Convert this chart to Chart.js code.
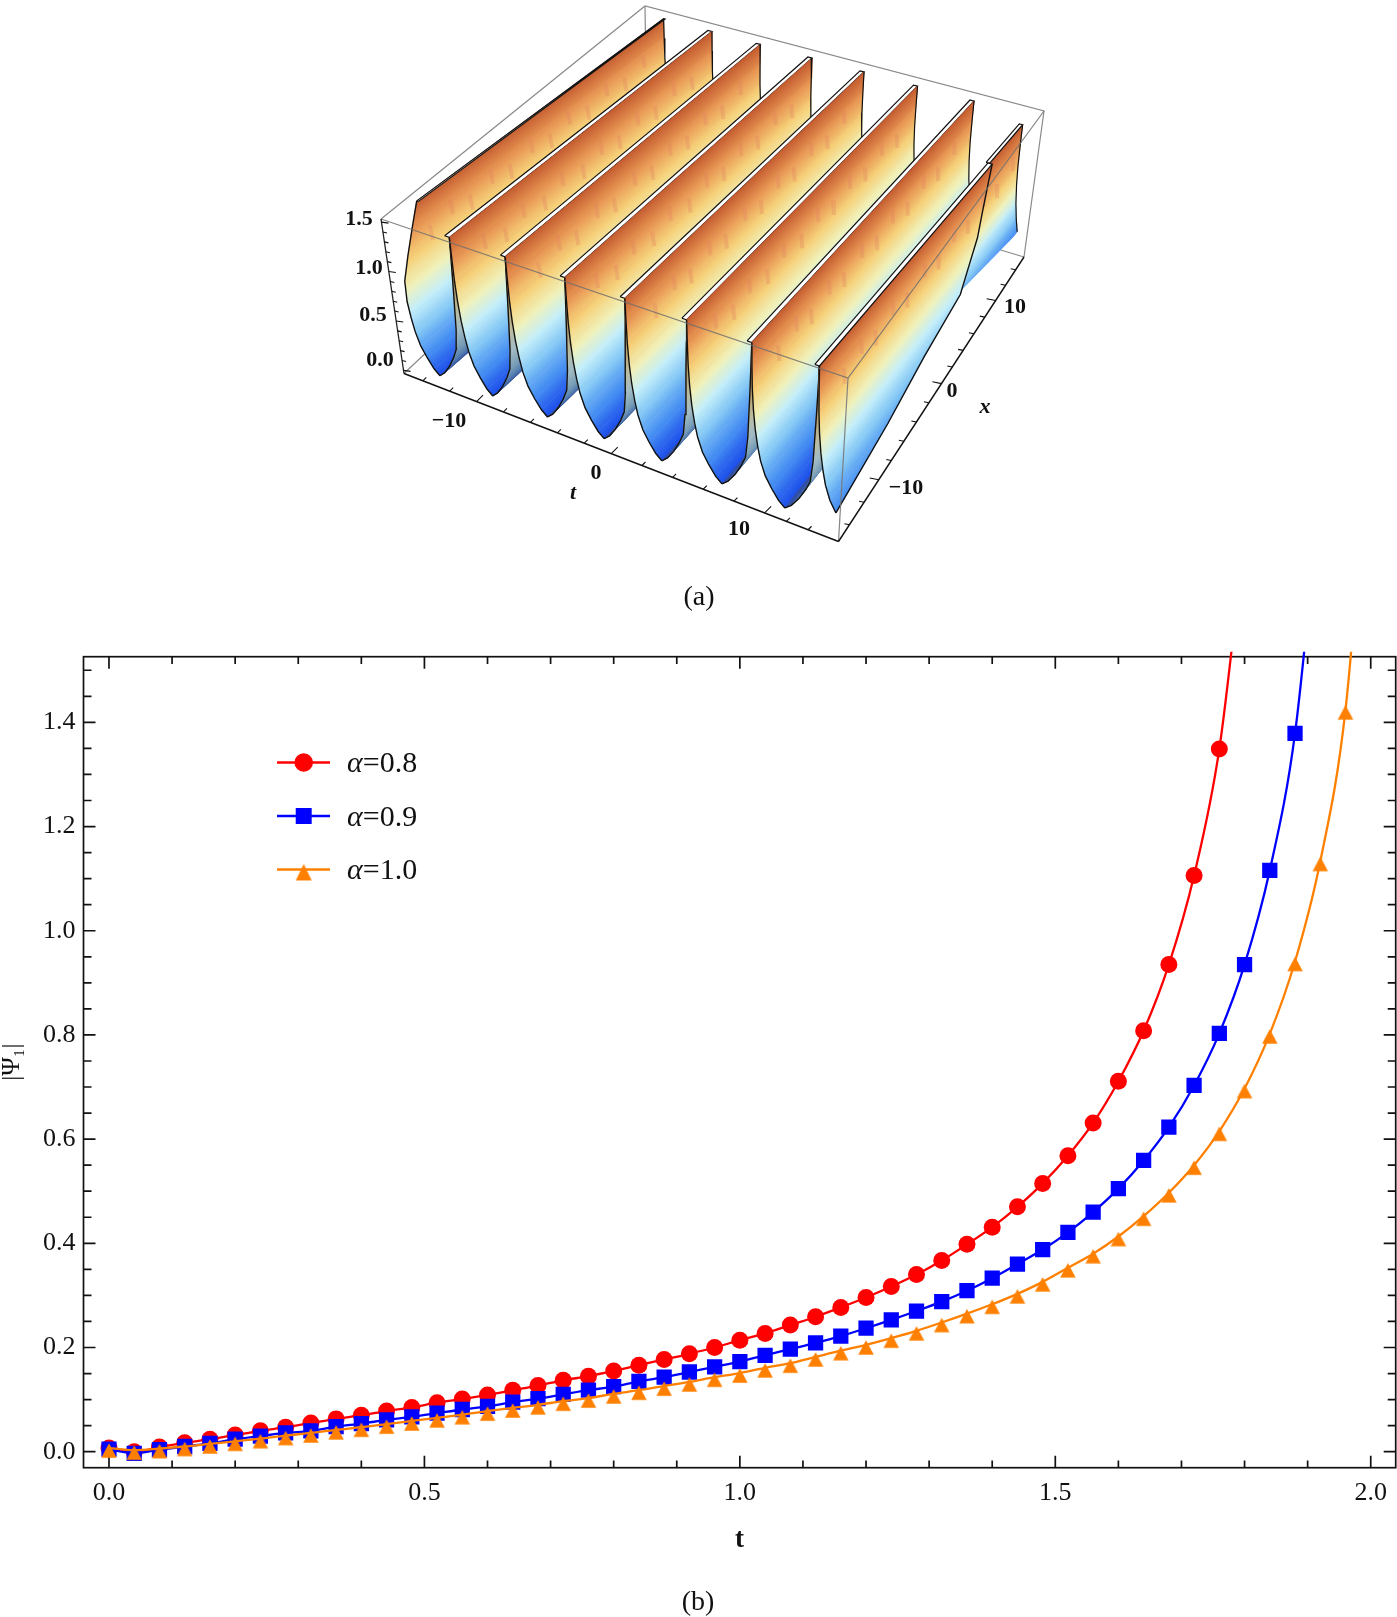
<!DOCTYPE html>
<html>
<head>
<meta charset="utf-8">
<title>Fig</title>
<script src="https://cdn.jsdelivr.net/npm/chart.js@4/dist/chart.umd.js"></script>
<style>
  html, body { margin: 0; padding: 0; background: #fff; }
  #page { position: relative; width: 1397px; height: 1617px; overflow: hidden; }
  canvas { position: absolute; left: 0; }
  #surface { top: 0; }
  #curves { top: 610px; }
  .cap { position: absolute; width: 100px; text-align: center; font: 28px "Liberation Serif", serif; color: #111; }
</style>
</head>
<body>
<div id="page">
  <canvas id="surface" width="1397" height="610"></canvas>
  <canvas id="curves" width="1397" height="1007"></canvas>
  <div class="cap" style="left:649px;top:580px">(a)</div>
  <div class="cap" style="left:648px;top:1585px">(b)</div>
</div>
<script>
const tValues = [0, 0.04, 0.08, 0.12, 0.16, 0.2, 0.24, 0.28, 0.32, 0.36, 0.4, 0.44, 0.48, 0.52, 0.56, 0.6, 0.64, 0.68, 0.72, 0.76, 0.8, 0.84, 0.88, 0.92, 0.96, 1, 1.04, 1.08, 1.12, 1.16, 1.2, 1.24, 1.28, 1.32, 1.36, 1.4, 1.44, 1.48, 1.52, 1.56, 1.6, 1.64, 1.68, 1.72, 1.76, 1.8, 1.84, 1.88, 1.92, 1.96, 2];
const alpha08 = [0.007, 0, 0.009, 0.017, 0.024, 0.032, 0.04, 0.047, 0.055, 0.063, 0.07, 0.078, 0.085, 0.094, 0.101, 0.109, 0.118, 0.127, 0.137, 0.145, 0.155, 0.166, 0.177, 0.188, 0.2, 0.214, 0.227, 0.243, 0.259, 0.277, 0.296, 0.317, 0.34, 0.367, 0.398, 0.431, 0.47, 0.515, 0.568, 0.631, 0.711, 0.808, 0.935, 1.106, 1.349, 1.76];
const alpha09 = [0.005, -0.003, 0.004, 0.01, 0.016, 0.024, 0.03, 0.036, 0.04, 0.048, 0.054, 0.061, 0.067, 0.074, 0.081, 0.087, 0.095, 0.102, 0.11, 0.118, 0.125, 0.135, 0.143, 0.153, 0.163, 0.173, 0.185, 0.197, 0.209, 0.222, 0.237, 0.253, 0.27, 0.288, 0.309, 0.333, 0.36, 0.388, 0.421, 0.46, 0.505, 0.559, 0.623, 0.703, 0.803, 0.935, 1.116, 1.379, 1.85];
const alpha10 = [0.007, 0.003, 0.006, 0.01, 0.015, 0.02, 0.025, 0.031, 0.036, 0.042, 0.047, 0.053, 0.059, 0.065, 0.071, 0.078, 0.084, 0.09, 0.097, 0.103, 0.111, 0.118, 0.126, 0.134, 0.143, 0.151, 0.161, 0.17, 0.182, 0.194, 0.205, 0.218, 0.232, 0.248, 0.265, 0.283, 0.303, 0.326, 0.353, 0.38, 0.413, 0.452, 0.497, 0.55, 0.615, 0.697, 0.802, 0.941, 1.133, 1.424, 2];
const seriesLabels = ["0.8", "0.9", "1.0"];
const xTickValues = [0, 0.5, 1, 1.5, 2];
const yTickValues = [0, 0.2, 0.4, 0.6, 0.8, 1, 1.2, 1.4];

// surface (a): wall positions across t, one valley profile
const wallT = [0, 0.131, 0.262, 0.402, 0.543, 0.688, 0.841, 1];
const profileU = [0, 0.004, 0.012, 0.03, 0.06, 0.1, 0.145, 0.22, 0.32, 0.43, 0.53, 0.63, 0.74, 0.84, 0.91, 0.945, 0.975, 0.99, 1];
const profileZ = [1.5, 1.28, 1.05, 0.85, 0.66, 0.5, 0.37, 0.24, 0.14, 0.05, 0, 0.05, 0.14, 0.25, 0.35, 0.55, 1, 1.28, 1.5];
const colorZ = [0, 0.15, 0.35, 0.55, 0.75, 1, 1.25, 1.5];
const colorRGB = [[30, 80, 235], [70, 142, 242], [133, 200, 245], [196, 238, 250], [240, 242, 188], [246, 208, 120], [232, 150, 84], [196, 92, 48]];
const nearCutZ = [0.14, 0.25, 0.5, 0.8, 1.1, 1.5];
const nearCutX = [0, 0.32, 0.677, 0.76, 0.785, 0.81];
const backCutZ = [0.35, 0.43, 0.5, 0.8, 1.1, 1.5];
const backCutX = [0.96, 0.9, 0.677, 0.76, 0.785, 0.81];
const streakX = [0.12, 0.2, 0.27, 0.35, 0.42, 0.5, 0.57, 0.64, 0.71, 0.78, 0.85, 0.92];
const tAxisValues = [-14, -12, -10, -8, -6, -4, -2, 0, 2, 4, 6, 8, 10, 12, 14];
const xAxisValues = [-14, -12, -10, -8, -6, -4, -2, 0, 2, 4, 6, 8, 10, 12, 14];
const zAxisValues = [0, 0.1, 0.2, 0.3, 0.4, 0.5, 0.6, 0.7, 0.8, 0.9, 1, 1.1, 1.2, 1.3, 1.4, 1.5];

const pageFont = '"Liberation Serif", serif';
Chart.defaults.font.family = pageFont;
Chart.defaults.color = "#111";

function lookup(xs, ys, v) {
  if (v <= xs[0]) return ys[0];
  for (let i = 1; i < xs.length; i++) {
    if (v <= xs[i]) return ys[i - 1] + (ys[i] - ys[i - 1]) * (v - xs[i - 1]) / (xs[i] - xs[i - 1]);
  }
  return ys[ys.length - 1];
}

// corners of the data block on the page
const topPlane = { fl: [393.5, 218], fr: [819.5, 366], bl: [663.6, 18.7], br: [1032.7, 116.7] };
const lowPlane = { fl: [412, 365], fr: [815, 519.5], bl: [666, 151], br: [1014, 255] };
const box = { blt: [645, 6], brt: [1044, 111], flt: [381, 219], frt: [848, 378], flb: [404, 373.5], frb: [838.5, 541.5], brb: [1024, 257], blb: [647, 144] };

function onPlane(p, t, x, i) {
  const f = p.fl[i] + (p.fr[i] - p.fl[i]) * t;
  const b = p.bl[i] + (p.br[i] - p.bl[i]) * t;
  return f + (b - f) * x;
}

function proj(t, x, z) {
  const w = z / 1.5;
  return {
    x: onPlane(lowPlane, t, x, 0) + (onPlane(topPlane, t, x, 0) - onPlane(lowPlane, t, x, 0)) * w,
    y: onPlane(lowPlane, t, x, 1) + (onPlane(topPlane, t, x, 1) - onPlane(lowPlane, t, x, 1)) * w,
  };
}

function zColor(z, dark) {
  const c = [0, 1, 2].map((i) => lookup(colorZ, colorRGB.map((r) => r[i]), z));
  if (!dark) return `rgb(${c.map(Math.round).join(",")})`;
  const g = (c[0] + c[1] + c[2]) / 3;
  return `rgb(${c.map((v) => Math.round((v * 0.7 + g * 0.3) * 0.8)).join(",")})`;
}

const surfaceCtx = document.getElementById("surface").getContext("2d");
const surfaceSets = [];

function addLine(points, color, width) {
  surfaceSets.push({ data: points, showLine: true, pointRadius: 0, borderColor: color, borderWidth: width, fill: false, clip: false, tension: 0 });
}

// one strip of the surface between two profile samples, shaded by height
function addQuad(a, b, dark) {
  const p1 = proj(a.t, 0.5, a.z);
  const p2 = proj(b.t, 0.5, b.z);
  const s0 = proj(a.t, 0, a.z);
  const s1 = proj(a.t, 1, a.z);
  const len = Math.hypot(s1.x - s0.x, s1.y - s0.y);
  const nx = -(s1.y - s0.y) / len;
  const ny = (s1.x - s0.x) / len;
  const d = (p2.x - p1.x) * nx + (p2.y - p1.y) * ny;
  const grad = surfaceCtx.createLinearGradient(p1.x, p1.y, p1.x + nx * d + 0.01, p1.y + ny * d + 0.01);
  const ca = a.shade === undefined ? a.z : a.shade;
  const cb = b.shade === undefined ? b.z : b.shade;
  for (let i = 0; i <= 6; i++) grad.addColorStop(i / 6, zColor(ca + (cb - ca) * i / 6, dark));
  surfaceSets.push({
    data: [proj(a.t, a.from, a.z), proj(b.t, b.from, b.z), proj(b.t, b.to, b.z), proj(a.t, a.to, a.z), proj(a.t, a.from, a.z)],
    showLine: true, pointRadius: 0, borderColor: grad, borderWidth: 0.8, backgroundColor: grad, fill: "shape", clip: false, tension: 0,
  });
}

function addEdge(samples, useTo, color, width) {
  addLine(samples.map((s) => proj(s.t, useTo ? s.to : s.from, s.z)), color, width);
}

function addWallTop(t, from, to, w) {
  surfaceSets.push({
    data: [proj(t - w, from, 1.5), proj(t, from, 1.5), proj(t, to, 1.5), proj(t - w, to, 1.5), proj(t - w, from, 1.5)],
    showLine: true, pointRadius: 0, borderColor: "#111", borderWidth: 1.2, backgroundColor: "#fff", fill: "shape", clip: false, tension: 0,
  });
}

// soft pink streaks the reference shows down the upper part of each wall
function addStreaks(start, gap, wallIndex) {
  streakX.forEach((x, i) => {
    const low = i % 2 === wallIndex % 2 ? 1.02 : 1.12;
    const high = low + 0.16;
    addLine([proj(start + 0.002 * gap, x, high), proj(start + 0.014 * gap, x + 0.004, low)], "rgba(224,130,96,0.3)", 4);
  });
}

// back edges of the box come first
addLine([box.flt, box.blt, box.brt, box.brb].map(([x, y]) => ({ x, y })), "#8a8a8a", 1.2);
addLine([box.blt, box.blb].map(([x, y]) => ({ x, y })), "#8a8a8a", 1.2);
addLine([box.flb, box.blb, box.brb].map(([x, y]) => ({ x, y })), "#8a8a8a", 1.2);

const lastValley = wallT.length - 2;
const rearWallT = 0.993;
wallT.slice(0, -1).forEach((start, k) => {
  const gap = wallT[k + 1] - start;
  const samples = profileU.map((u, j) => {
    const z = profileZ[j];
    const from = k === 0 && j < 10 ? 0.086 * Math.max(0, (z - 0.8) / 0.7) : 0;
    return { t: start + u * gap, z, from, to: 1 };
  });
  const falling = samples.slice(0, 11);
  const rising = samples.slice(10);
  for (let j = 0; j < falling.length - 1; j++) addQuad(falling[j], falling[j + 1], false);
  addStreaks(start, gap, k);
  addEdge(falling, true, "#111", 1.2);
  if (k === lastValley) {
    // the last rising side stops short of the rear wall
    const rear = rising.map((s, j) => ({ t: start + profileU[j + 10] * (rearWallT - start), z: s.z, from: 0.78, to: 0.965 }));
    for (let j = 0; j < rear.length - 1; j++) addQuad(rear[j], rear[j + 1], true);
    rising.forEach((s) => { s.to = 0.8; });
  }
  for (let j = 0; j < rising.length - 1; j++) addQuad(rising[j], rising[j + 1], true);
  addEdge(rising, false, "#111", 1.4);
  addEdge(falling, false, "#111", 1.4);
  if (k === 0) addWallTop(start + 0.004, 0.086, 1, 0.004);
  if (k < lastValley) addWallTop(wallT[k + 1], 0, 1, 0.011);
});

// last wall: a rear piece, then the front piece cut away by the block's side
const lastGap = 0.158;
const backSamples = profileU.slice(0, 7).map((u, j) => {
  const z = profileZ[j];
  return { t: rearWallT + u * lastGap, z, shade: z >= 1 ? z : 1 - (1 - z) * 1.385, from: lookup(backCutZ, backCutX, z), to: 0.965 };
});
for (let j = 0; j < backSamples.length - 1; j++) addQuad(backSamples[j], backSamples[j + 1], false);
addEdge(backSamples, true, "#111", 1.2);
addWallTop(rearWallT, 0.81, 0.965, 0.009);
const nearSamples = profileU.slice(0, 9).map((u, j) => ({ t: 1 + u * lastGap, z: profileZ[j], from: 0, to: lookup(nearCutZ, nearCutX, profileZ[j]) }));
for (let j = 0; j < nearSamples.length - 1; j++) addQuad(nearSamples[j], nearSamples[j + 1], false);
addStreaks(1, lastGap, 0);
addEdge(nearSamples, false, "#111", 1.4);
addEdge(nearSamples, true, "#111", 1.4);
addWallTop(1, 0, 0.81, 0.011);

// front edges of the box lie over the surface
addLine([box.flt, box.frt, box.brt].map(([x, y]) => ({ x, y })), "rgba(110,110,110,0.85)", 1.2);
addLine([box.frt, box.frb].map(([x, y]) => ({ x, y })), "rgba(120,120,120,0.9)", 1.2);
addLine([box.flt, box.flb].map(([x, y]) => ({ x, y })), "#222", 1.3);

// axes with their ticks
function along(a, b, f) {
  return { x: a[0] + (b[0] - a[0]) * f, y: a[1] + (b[1] - a[1]) * f };
}
addLine([box.flb, box.frb].map(([x, y]) => ({ x, y })), "#111", 1.4);
addLine([box.frb, box.brb].map(([x, y]) => ({ x, y })), "#111", 1.4);
tAxisValues.forEach((v) => {
  const p = along(box.flb, box.frb, lookup([-15.4, -10, 0, 10, 16.8], [0, 0.167, 0.477, 0.83, 1], v));
  const n = v % 10 === 0 ? 6.5 : 3.5;
  addLine([p, { x: p.x + n, y: p.y - n }], "#111", 1.1);
});
xAxisValues.forEach((v) => {
  const p = along(box.frb, box.brb, lookup([-14, -10, 0, 10, 14], [0.059, 0.217, 0.555, 0.847, 0.955], v));
  const n = v % 10 === 0 ? 9 : 5;
  addLine([p, { x: p.x - n, y: p.y - n * 0.2 }], "#111", 1.1);
});
zAxisValues.forEach((v, i) => {
  const p = along(box.flt, box.flb, 0.02 + 0.96 * (1 - v / 1.5));
  const n = i % 5 === 0 ? 7 : 4;
  addLine([p, { x: p.x + n, y: p.y + 1 }], "#111", 1.1);
});

const surfaceTexts = [
  ["1.5", 359, 219], ["1.0", 369, 268], ["0.5", 373, 315], ["0.0", 380, 360],
  ["\u221210", 449, 421], ["0", 596, 473], ["10", 739, 529],
  ["\u221210", 906, 488], ["0", 952, 391], ["10", 1015, 307],
];
const surfaceLabels = {
  id: "surfaceLabels",
  afterDraw(chart) {
    const c = chart.ctx;
    c.save();
    c.fillStyle = "#111";
    c.textAlign = "center";
    c.textBaseline = "middle";
    c.font = `bold 22px ${pageFont}`;
    surfaceTexts.forEach(([s, x, y]) => c.fillText(s, x, y));
    c.font = `italic bold 22px ${pageFont}`;
    c.fillText("t", 573, 493);
    c.fillText("x", 985, 407);
    c.restore();
  },
};

new Chart(surfaceCtx, {
  type: "scatter",
  // chart draws last dataset first, so paint order is reversed here
  data: { datasets: surfaceSets.slice().reverse() },
  options: {
    responsive: false,
    animation: false,
    events: [],
    layout: { padding: 0, autoPadding: false },
    scales: {
      x: { type: "linear", display: false, min: 0, max: 1397 },
      y: { type: "linear", display: false, min: 0, max: 610, reverse: true },
    },
    plugins: { legend: { display: false }, tooltip: { enabled: false }, filler: { drawTime: "beforeDatasetDraw", propagate: false } },
  },
  plugins: [surfaceLabels],
});

// marker with the data point a third of the way down from the apex
function triangleMarker(color, w, h) {
  const m = document.createElement("canvas");
  m.width = 32;
  m.height = 32;
  const c = m.getContext("2d");
  c.fillStyle = color;
  c.beginPath();
  c.moveTo(16, 16 - h / 3);
  c.lineTo(16 + w / 2, 16 + h * 2 / 3);
  c.lineTo(16 - w / 2, 16 + h * 2 / 3);
  c.closePath();
  c.fill();
  return m;
}

function toPoints(values) {
  return values.map((y, i) => ({ x: tValues[i], y }));
}

function curveSet(label, values, color, style, radius, order) {
  return {
    label,
    data: toPoints(values),
    showLine: true,
    borderColor: color,
    backgroundColor: color,
    borderWidth: 2.3,
    cubicInterpolationMode: "monotone",
    pointStyle: style,
    pointRadius: radius,
    pointBorderWidth: 0,
    pointBackgroundColor: color,
    order,
    clip: { left: 5, right: 5, top: 5, bottom: 5 },
  };
}

const frameTicks = {
  id: "frameTicks",
  beforeDatasetsDraw(chart) {
    const c = chart.ctx;
    const { left, right, top, bottom } = chart.chartArea;
    const xs = chart.scales.x;
    const ys = chart.scales.y;
    c.save();
    c.strokeStyle = "#111";
    c.lineWidth = 1.7;
    c.strokeRect(left, top, right - left, bottom - top);
    c.beginPath();
    for (let i = 0; i <= 20; i++) {
      const px = xs.getPixelForValue(i / 10);
      const n = i % 5 === 0 ? 12 : 7.3;
      c.moveTo(px, bottom); c.lineTo(px, bottom - n);
      c.moveTo(px, top); c.lineTo(px, top + n);
    }
    for (let i = 0; i <= 30; i++) {
      const py = ys.getPixelForValue(i / 20);
      const n = i % 4 === 0 ? 12 : 8;
      c.moveTo(left, py); c.lineTo(left + n, py);
      c.moveTo(right, py); c.lineTo(right - n, py);
    }
    c.stroke();
    c.restore();
  },
};

const curveLegend = {
  id: "curveLegend",
  afterDatasetsDraw(chart) {
    const c = chart.ctx;
    const markerSizes = [9.3, 11.3, 9];
    chart.data.datasets.forEach((ds, i) => {
      const y = [152.5, 206, 259.5][i];
      c.save();
      c.strokeStyle = ds.borderColor;
      c.lineWidth = 2.3;
      c.beginPath();
      c.moveTo(277, y);
      c.lineTo(330, y);
      c.stroke();
      c.fillStyle = ds.borderColor;
      Chart.helpers.drawPoint(c, { pointStyle: i === 2 ? triangleMarker(ds.borderColor, 16, 16.5) : ds.pointStyle, radius: markerSizes[i], rotation: 0, borderWidth: 0 }, 303.7, y);
      c.fillStyle = "#111";
      c.textBaseline = "middle";
      c.font = `italic 30px ${pageFont}`;
      c.fillText("\u03b1", 347, y + 2);
      const aw = c.measureText("\u03b1").width;
      c.font = `30px ${pageFont}`;
      c.fillText("=" + ds.label, 347 + aw, y + 2);
      c.restore();
    });
  },
};

new Chart(document.getElementById("curves"), {
  type: "scatter",
  data: {
    datasets: [
      curveSet(seriesLabels[0], alpha08, "#ff0000", "circle", 8.5, 3),
      curveSet(seriesLabels[1], alpha09, "#0000ff", "rect", 10.8, 2),
      curveSet(seriesLabels[2], alpha10, "#ff8000", triangleMarker("#ff8000", 15.5, 14.5), 8, 1),
    ],
  },
  options: {
    responsive: false,
    animation: false,
    events: [],
    layout: { padding: { top: 46.7, right: 1, left: 0, bottom: 0 }, autoPadding: false },
    scales: {
      x: {
        type: "linear",
        min: -0.0404,
        max: 2.0396,
        afterBuildTicks: (s) => { s.ticks = xTickValues.map((value) => ({ value })); },
        afterFit: (s) => { s.height = 149.3; },
        grid: { display: false, drawTicks: false },
        border: { display: false },
        ticks: { maxRotation: 0, padding: 10, color: "#111", font: { size: 26 }, callback: (v) => v.toFixed(1) },
        title: { display: true, text: "t", color: "#111", font: { size: 27, weight: "bold" }, padding: { top: 0, bottom: 61 } },
      },
      y: {
        type: "linear",
        min: -0.0307,
        max: 1.526,
        afterBuildTicks: (s) => { s.ticks = yTickValues.map((value) => ({ value })); },
        afterFit: (s) => { s.width = 83.5; },
        grid: { display: false, drawTicks: false },
        border: { display: false },
        ticks: { padding: 8, color: "#111", font: { size: 26 }, callback: (v) => v.toFixed(1) },
        title: { display: true, text: "|\u03a8\u2081|", color: "#111", font: { size: 25, lineHeight: 1 }, padding: { top: 0, bottom: 0 } },
      },
    },
    plugins: { legend: { display: false }, tooltip: { enabled: false } },
  },
  plugins: [frameTicks, curveLegend],
});
</script>
</body>
</html>
